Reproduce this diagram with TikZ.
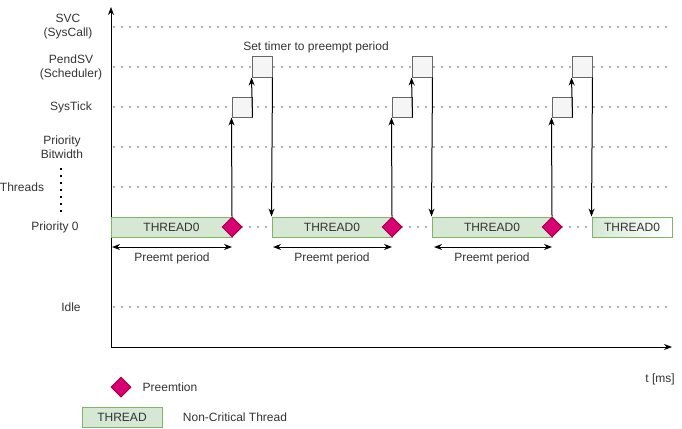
\documentclass[tikz,border=0pt]{standalone}
\usepackage{fontspec}
\setmainfont{Liberation Sans}
\usetikzlibrary{shapes.geometric,arrows.meta}
\definecolor{thfill}{HTML}{D5E8D4}
\definecolor{thline}{HTML}{82B366}
\definecolor{dmfill}{HTML}{D80073}
\definecolor{dmline}{HTML}{A50040}
\definecolor{bxfill}{HTML}{F5F5F5}
\definecolor{bxline}{HTML}{666666}
\definecolor{txt}{HTML}{333333}
\definecolor{dotc}{HTML}{B3B3B3}
\tikzset{
  lbl/.style={text=txt,font=\fontsize{12}{14}\selectfont,align=center,inner sep=0pt},
  thbar/.style={draw=thline,fill=thfill,line width=1pt,minimum height=20pt,inner sep=0pt,text=txt,font=\fontsize{12}{14}\selectfont},
  preem/.style={diamond,draw=dmline,fill=dmfill,line width=1pt,minimum width=20pt,minimum height=20pt,inner sep=0pt},
  irqbox/.style={draw=bxline,fill=bxfill,line width=1pt,minimum width=20pt,minimum height=20pt,inner sep=0pt},
  grid/.style={dotc,line width=1.5pt,dash pattern=on 1.5pt off 6.5pt},
  arr/.style={line width=1pt,-{Stealth[length=8pt,width=6pt]}},
  darr/.style={line width=1pt,{Stealth[length=8pt,width=6pt]}-{Stealth[length=8pt,width=6pt]}},
}
\begin{document}
\begin{tikzpicture}[x=1pt,y=-1pt]
\useasboundingbox (0,0) rectangle (682,428);
% grid lines
\foreach \yy in {27,67,107,147,187,227,307}{
  \draw[grid] (113,\yy) -- (668,\yy);
}
% axes
\coordinate (o) at (111,347);
\coordinate (ytop) at (111,7);
\coordinate (xend) at (672,347);
\draw[arr] (o) -- (ytop);
\draw[arr] (o) -- (xend);
% row labels
\node[lbl] (lsvc) at (68,27) {SVC\\(SysCall)};
\node[lbl] (lpsv) at (71,67) {PendSV\\(Scheduler)};
\node[lbl] (lsys) at (71,107) {SysTick};
\node[lbl] (lpb) at (62,147) {Priority\\Bitwidth};
\node[lbl] (lthr) at (22,187) {Threads};
\node[lbl] (lp0) at (55,227) {Priority 0};
\node[lbl] (lidle) at (71,307) {Idle};
\coordinate (vd1) at (61,168);
\coordinate (vd2) at (61,216);
\draw[black,line width=1.8pt,dash pattern=on 1.8pt off 5.2pt] (vd1) -- (vd2);
% threads
\node[thbar,minimum width=121pt] (bar1) at (171.5,227) {THREAD0};
\node[thbar,minimum width=120pt] (bar2) at (332,227) {THREAD0};
\node[thbar,minimum width=120pt] (bar3) at (492,227) {THREAD0};
\node[draw=thline,left color=thfill,right color=white,line width=1pt,minimum height=20pt,minimum width=80pt,inner sep=0pt,text=txt,font=\fontsize{12}{14}\selectfont] (bar4) at (632,227) {THREAD0};
% interrupt boxes
\foreach \i/\xx in {1/232,2/392,3/552}{
  \node[irqbox] (s\i) at (\xx+10,107) {};
  \node[irqbox] (p\i) at (\xx+30,67) {};
  \node[preem] (d\i) at (\xx,227) {};
}
\draw[arr] (d1.north) -- (s1.south west);
\draw[arr] (s1.south east) -- (p1.south west);
\draw[arr] (p1.south east) -- (bar2.north west);
\draw[arr] (d2.north) -- (s2.south west);
\draw[arr] (s2.south east) -- (p2.south west);
\draw[arr] (p2.south east) -- (bar3.north west);
\draw[arr] (d3.north) -- (s3.south west);
\draw[arr] (s3.south east) -- (p3.south west);
\draw[arr] (p3.south east) -- (bar4.north west);
% preempt periods
\coordinate (a1) at (112,247); \coordinate (b1) at (232,247);
\coordinate (a2) at (273,247); \coordinate (b2) at (392,247);
\coordinate (a3) at (434,247); \coordinate (b3) at (552,247);
\draw[darr] (a1) -- (b1);
\draw[darr] (a2) -- (b2);
\draw[darr] (a3) -- (b3);
\node[lbl] (pp1) at (172,258) {Preemt period};
\node[lbl] (pp2) at (332,258) {Preemt period};
\node[lbl] (pp3) at (492,258) {Preemt period};
\node[lbl] (settimer) at (316,47) {Set timer to preempt period};
\node[lbl] (tms) at (660,379) {t [ms]};
% legend
\node[preem] (ld) at (121,387) {};
\node[lbl] (ldt) at (170,387) {Preemtion};
\node[thbar,minimum width=80pt] (lth) at (122,417) {THREAD};
\node[lbl] (ltht) at (235,417) {Non-Critical Thread};
\end{tikzpicture}
\end{document}
